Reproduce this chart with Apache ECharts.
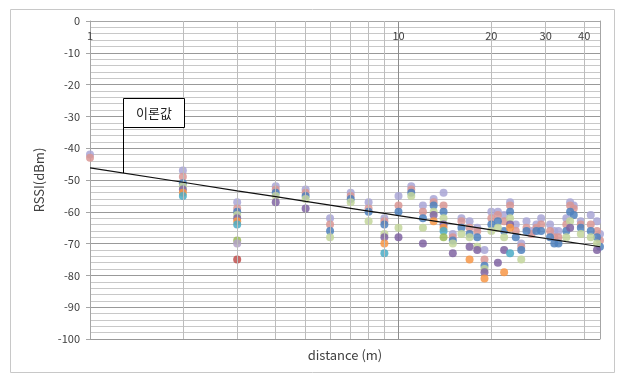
<!DOCTYPE html>
<html><head><meta charset="utf-8">
<script src="https://cdn.jsdelivr.net/npm/echarts@6/dist/echarts.min.js"></script>
<style>html,body{margin:0;padding:0;background:#fff}#c{width:620px;height:374px}</style>
</head><body><div id="c"></div>
<script>
// measured distances (m)
const distances = [1,2,3,4,5,6,7,8,9,10,11,12,13,14,15,16,17,18,19,20,21,22,23,24,25,26,27,28,29,31,32,33,35,36,37,39,42,44,45];
// RSSI readings (dBm) at each distance
const rssi = [
  [-42,-43],
  [-47,-49,-51,-52,-53,-54,-55],
  [-57,-59,-60,-61,-62,-63,-64,-69,-70,-75],
  [-52,-53,-54,-55,-57],
  [-53,-54,-55,-56,-59],
  [-62,-64,-66,-68],
  [-54,-55,-56,-57],
  [-57,-59,-60,-63],
  [-62,-63,-64,-67,-68,-70,-73],
  [-55,-58,-60,-65,-68],
  [-52,-53,-54,-55],
  [-58,-60,-62,-65,-70],
  [-56,-57,-58,-60,-61,-63],
  [-54,-58,-60,-62,-64,-65,-66,-68],
  [-67,-68,-69,-70,-73],
  [-62,-63,-65,-67],
  [-63,-65,-67,-68,-71,-75],
  [-65,-66,-68,-71,-72],
  [-72,-75,-77,-78,-79,-81],
  [-60,-62,-64,-66],
  [-60,-61,-63,-65,-76],
  [-61,-63,-66,-68,-72,-79],
  [-57,-58,-60,-62,-64,-65,-73],
  [-64,-66,-68],
  [-70,-71,-72,-75],
  [-63,-65,-66],
  [-66,-67],
  [-64,-65,-66],
  [-62,-64,-66],
  [-64,-66,-68],
  [-66,-68,-70],
  [-66,-68,-70],
  [-62,-64,-66,-68],
  [-57,-58,-60,-63,-65],
  [-58,-59,-61],
  [-63,-64,-65,-67],
  [-61,-64,-66,-68],
  [-63,-66,-68,-70,-72],
  [-67,-69,-71]
];
// theoretical value line (이론값)
const theoryDistances = [1,2,3,4,5,6,7,8,9,10,15,20,25,30,35,40,45];
const theoryValues = [-46.2,-50.7,-53.4,-55.2,-56.7,-57.9,-58.9,-59.8,-60.5,-61.2,-63.8,-65.7,-67.2,-68.4,-69.4,-70.2,-71.0];
const xTickLabels = [1,10,20,30,40];
const xGridValues = [2,3,4,5,6,7,8,9,20,30,40];
const xMin = 1, xMax = 45;
const yMin = -100, yMax = 0, yStep = 10;

const palette = ['#A9A6D6','#D99694','#4F81BD','#C3D69B','#8064A2','#F79646','#4BACC6','#9BBB59','#B3A2C7','#C0504D','#95B3D7','#FAC090'];

const chart = echarts.init(document.getElementById('c'));
const maxN = Math.max(...rssi.map(a => a.length));
const scatterSeries = [];
for (let k = 0; k < maxN; k++) {
  const data = [];
  distances.forEach((d, i) => { if (rssi[i][k] !== undefined) data.push([d, rssi[i][k]]); });
  scatterSeries.push({
    type: 'scatter', data: data, symbolSize: 8, clip: false, z: 3,
    itemStyle: { color: palette[k % palette.length], opacity: 0.85 }
  });
}
const font = "'Noto Sans CJK KR', 'Noto Sans', sans-serif";
chart.setOption({
  animation: false,
  grid: { left: 90, right: 20, top: 21, bottom: 35 },
  xAxis: {
    type: 'log', logBase: 10, min: xMin, max: xMax, position: 'top',
    axisLine: { show: true, onZero: false, lineStyle: { color: '#a6a6a6' } },
    axisTick: { show: false },
    axisLabel: { inside: true, margin: 9, color: '#404040', fontSize: 11, fontFamily: font, customValues: xTickLabels },
    splitLine: { show: true, lineStyle: { color: '#8c8c8c', width: 1 } }
  },
  yAxis: [{
    type: 'value', min: yMin, max: yMax, interval: yStep,
    name: 'RSSI(dBm)', nameLocation: 'middle', nameGap: 44,
    nameTextStyle: { color: '#404040', fontSize: 13, fontFamily: font },
    axisLine: { show: true, lineStyle: { color: '#a6a6a6' } },
    axisTick: { show: true, length: 4, lineStyle: { color: '#a6a6a6' } },
    axisLabel: { margin: 10, color: '#404040', fontSize: 11, fontFamily: font },
    splitLine: { show: true, lineStyle: { color: '#999999', width: 1 } },
    minorTick: { show: true, splitNumber: 5, length: 0 },
    minorSplitLine: { show: true, lineStyle: { color: '#c8c8c8', width: 1 } }
  }, {
    type: 'value', min: yMin, max: yMax, interval: yStep, position: 'right',
    axisLine: { show: true, lineStyle: { color: '#a6a6a6' } },
    axisTick: { show: false }, axisLabel: { show: false }, splitLine: { show: false }
  }],
  series: [
    {
      type: 'scatter', data: [[xMin, yMin]], symbolSize: 0, z: 1, silent: true,
      markLine: {
        silent: true, symbol: ['none','none'], label: { show: false },
        lineStyle: { color: '#bdbdbd', type: 'solid', width: 1 },
        data: xGridValues.map(v => ({ xAxis: v }))
      }
    },
    ...scatterSeries,
    {
      type: 'line', data: theoryDistances.map((d, i) => [d, theoryValues[i]]),
      showSymbol: false, symbol: 'none', z: 5,
      lineStyle: { color: '#111', width: 1.2 }
    }
  ],
  graphic: [
    { type: 'rect', shape: { x: 10.5, y: 9.5, width: 604, height: 363 }, style: { fill: 'none', stroke: '#c8c8c8', lineWidth: 1 }, z: -1 },
    { type: 'line', shape: { x1: 123.5, y1: 127, x2: 123.5, y2: 173 }, style: { stroke: '#000', lineWidth: 1 }, z: 10 },
    { type: 'rect', shape: { x: 123.5, y: 98.5, width: 61, height: 29 }, style: { fill: '#fff', stroke: '#000', lineWidth: 1 }, z: 10 },
    { type: 'text', x: 154, y: 113, style: { text: '이론값', fill: '#222', font: "13px 'Noto Sans CJK KR'", textAlign: 'center', textVerticalAlign: 'middle' }, z: 11 },
    { type: 'text', x: 345, y: 355, style: { text: 'distance (m)', fill: '#404040', font: "13px 'Noto Sans CJK KR'", textAlign: 'center', textVerticalAlign: 'middle' }, z: 11 }
  ]
});
</script></body></html>
